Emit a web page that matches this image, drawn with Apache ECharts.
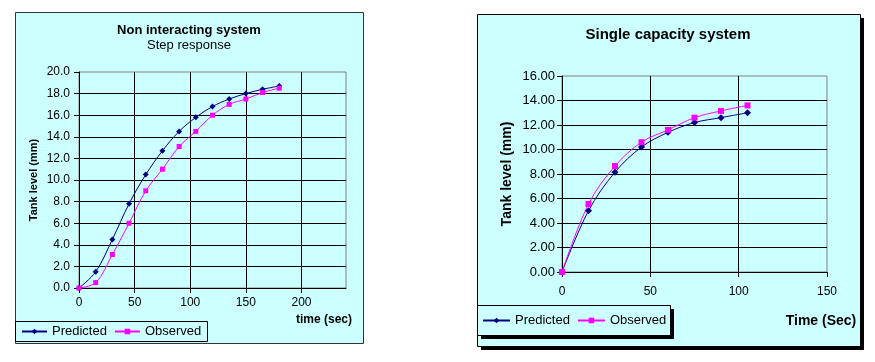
<!DOCTYPE html>
<html>
<head>
<meta charset="utf-8">
<script src="https://cdn.jsdelivr.net/npm/echarts@6/dist/echarts.min.js"></script>
<style>
html,body{margin:0;padding:0;background:#ffffff;}
#c{width:875px;height:362px;}
</style>
</head>
<body>
<div id="c"></div>
<script>
// ---- Data ----
var leftTime = [0, 15, 30, 45, 60, 75, 90, 105, 120, 135, 150, 165, 180];
var leftPredicted = [0, 1.5, 4.5, 7.8, 10.5, 12.7, 14.5, 15.8, 16.8, 17.5, 18.0, 18.4, 18.7];
var leftObserved = [0, 0.5, 3.1, 6.0, 9.0, 11.0, 13.1, 14.5, 16.0, 17.0, 17.5, 18.1, 18.5];

var rightTime = [0, 15, 30, 45, 60, 75, 90, 105];
var rightPredicted = [0, 5.0, 8.15, 10.2, 11.4, 12.2, 12.6, 13.0];
var rightObserved = [0, 5.55, 8.65, 10.6, 11.6, 12.6, 13.15, 13.6];

var leftTitle = 'Non interacting system';
var leftSubtitle = 'Step response';
var rightTitle = 'Single capacity system';
var yName = 'Tank level (mm)';
var leftXName = 'time (sec)';
var rightXName = 'Time (Sec)';
var seriesNames = ['Predicted', 'Observed'];

function pairs(xs, ys) { return xs.map(function (x, i) { return [x, ys[i]]; }); }

var FONT = 'Liberation Sans, Arial, sans-serif';
var BG = '#CCFFFF';
var C_PRED = '#000080';
var C_OBS = '#FF00FF';

function xAxisCfg(gridIndex, max, margin) {
  return {
    type: 'value', gridIndex: gridIndex, min: 0, max: max, interval: 50,
    axisLine: { show: true, lineStyle: { color: '#000', width: 1 } },
    axisTick: { show: true, length: 5, lineStyle: { color: '#000' } },
    axisLabel: { color: '#000', fontFamily: FONT, fontSize: 12, margin: margin, showMaxLabel: max % 50 === 0,
      formatter: function (v) { return v % 50 === 0 ? String(v) : ''; } },
    splitLine: { show: true, showMaxLine: false, lineStyle: { color: '#000', width: 1 } }
  };
}
function yAxisCfg(gridIndex, max, decimals, margin, nameGap, nameSize, labelSize) {
  return {
    type: 'value', gridIndex: gridIndex, min: 0, max: max, interval: 2,
    name: yName, nameLocation: 'middle', nameRotate: 90, nameGap: nameGap,
    nameTextStyle: { color: '#000', fontFamily: FONT, fontWeight: 'bold', fontSize: nameSize },
    axisLine: { show: true, lineStyle: { color: '#000', width: 1 } },
    axisTick: { show: true, length: 5, lineStyle: { color: '#000' } },
    axisLabel: { color: '#000', fontFamily: FONT, fontSize: labelSize, margin: margin,
      formatter: function (v) { return v.toFixed(decimals); } },
    splitLine: { show: true, showMaxLine: false, lineStyle: { color: '#000', width: 1 } }
  };
}
function lineSeries(name, idx, data, color, symbol, size) {
  return {
    type: 'line', name: name, xAxisIndex: idx, yAxisIndex: idx, data: data,
    smooth: 0.35, symbol: symbol, symbolSize: size, showSymbol: true,
    lineStyle: { color: color, width: 1 }, itemStyle: { color: color },
    animation: false, z: 5
  };
}

var chart = echarts.init(document.getElementById('c'), null, { renderer: 'canvas' });
chart.setOption({
  animation: false,
  backgroundColor: '#ffffff',
  textStyle: { fontFamily: FONT },
  grid: [
    { left: 79, top: 72, width: 267, height: 216, show: true, borderColor: '#808080', borderWidth: 1, backgroundColor: 'transparent' },
    { left: 562, top: 76, width: 265, height: 196, show: true, borderColor: '#808080', borderWidth: 1, backgroundColor: 'transparent' }
  ],
  xAxis: [xAxisCfg(0, 240, 9), xAxisCfg(1, 150, 14)],
  yAxis: [yAxisCfg(0, 20, 1, 9, 40, 11, 12), yAxisCfg(1, 16, 2, 7, 48, 14, 13)],
  legend: [
    { data: seriesNames, left: 21, top: 325, orient: 'horizontal', itemWidth: 25, itemHeight: 7, itemGap: 7,
      textStyle: { color: '#000', fontFamily: FONT, fontSize: 13 }, padding: 0, selectedMode: false },
    { data: seriesNames, left: 482, top: 314, orient: 'horizontal', itemWidth: 27, itemHeight: 7, itemGap: 7,
      textStyle: { color: '#000', fontFamily: FONT, fontSize: 13 }, padding: 0, selectedMode: false }
  ],
  graphic: [
    // left panel
    { type: 'rect', z: -10, shape: { x: 15.5, y: 12.5, width: 348, height: 331 }, style: { fill: BG, stroke: '#333', lineWidth: 1 }, silent: true },
    { type: 'rect', z: -9, shape: { x: 15.5, y: 321.5, width: 192, height: 20 }, style: { fill: BG, stroke: '#000', lineWidth: 1 }, silent: true },
    // right panel with shadow
    { type: 'rect', z: -11, shape: { x: 481, y: 18, width: 383, height: 332 }, style: { fill: '#000' }, silent: true },
    { type: 'rect', z: -10, shape: { x: 477.5, y: 14.5, width: 383, height: 332 }, style: { fill: BG, stroke: '#000', lineWidth: 1 }, silent: true },
    { type: 'rect', z: -9, shape: { x: 481, y: 309, width: 193, height: 30 }, style: { fill: '#000' }, silent: true },
    { type: 'rect', z: -8, shape: { x: 477.5, y: 305.5, width: 193, height: 30 }, style: { fill: BG, stroke: '#000', lineWidth: 1 }, silent: true },
    // titles
    { type: 'text', z: 10, x: 189, y: 30, style: { text: leftTitle, font: 'bold 13px ' + FONT, fill: '#000', align: 'center', verticalAlign: 'middle' } },
    { type: 'text', z: 10, x: 189, y: 45, style: { text: leftSubtitle, font: '13px ' + FONT, fill: '#000', align: 'center', verticalAlign: 'middle' } },
    { type: 'text', z: 10, x: 668, y: 35, style: { text: rightTitle, font: 'bold 15px ' + FONT, fill: '#000', align: 'center', verticalAlign: 'middle' } },
    // x axis names
    { type: 'text', z: 10, x: 324, y: 320, style: { text: leftXName, font: 'bold 12px ' + FONT, fill: '#000', align: 'center', verticalAlign: 'middle' } },
    { type: 'text', z: 10, x: 821, y: 321, style: { text: rightXName, font: 'bold 14px ' + FONT, fill: '#000', align: 'center', verticalAlign: 'middle' } }
  ],
  series: [
    lineSeries('Predicted', 0, pairs(leftTime, leftPredicted), C_PRED, 'diamond', 6),
    lineSeries('Observed', 0, pairs(leftTime, leftObserved), C_OBS, 'rect', 5),
    lineSeries('Predicted', 1, pairs(rightTime, rightPredicted), C_PRED, 'diamond', 7),
    lineSeries('Observed', 1, pairs(rightTime, rightObserved), C_OBS, 'rect', 6)
  ]
});
</script>
</body>
</html>
